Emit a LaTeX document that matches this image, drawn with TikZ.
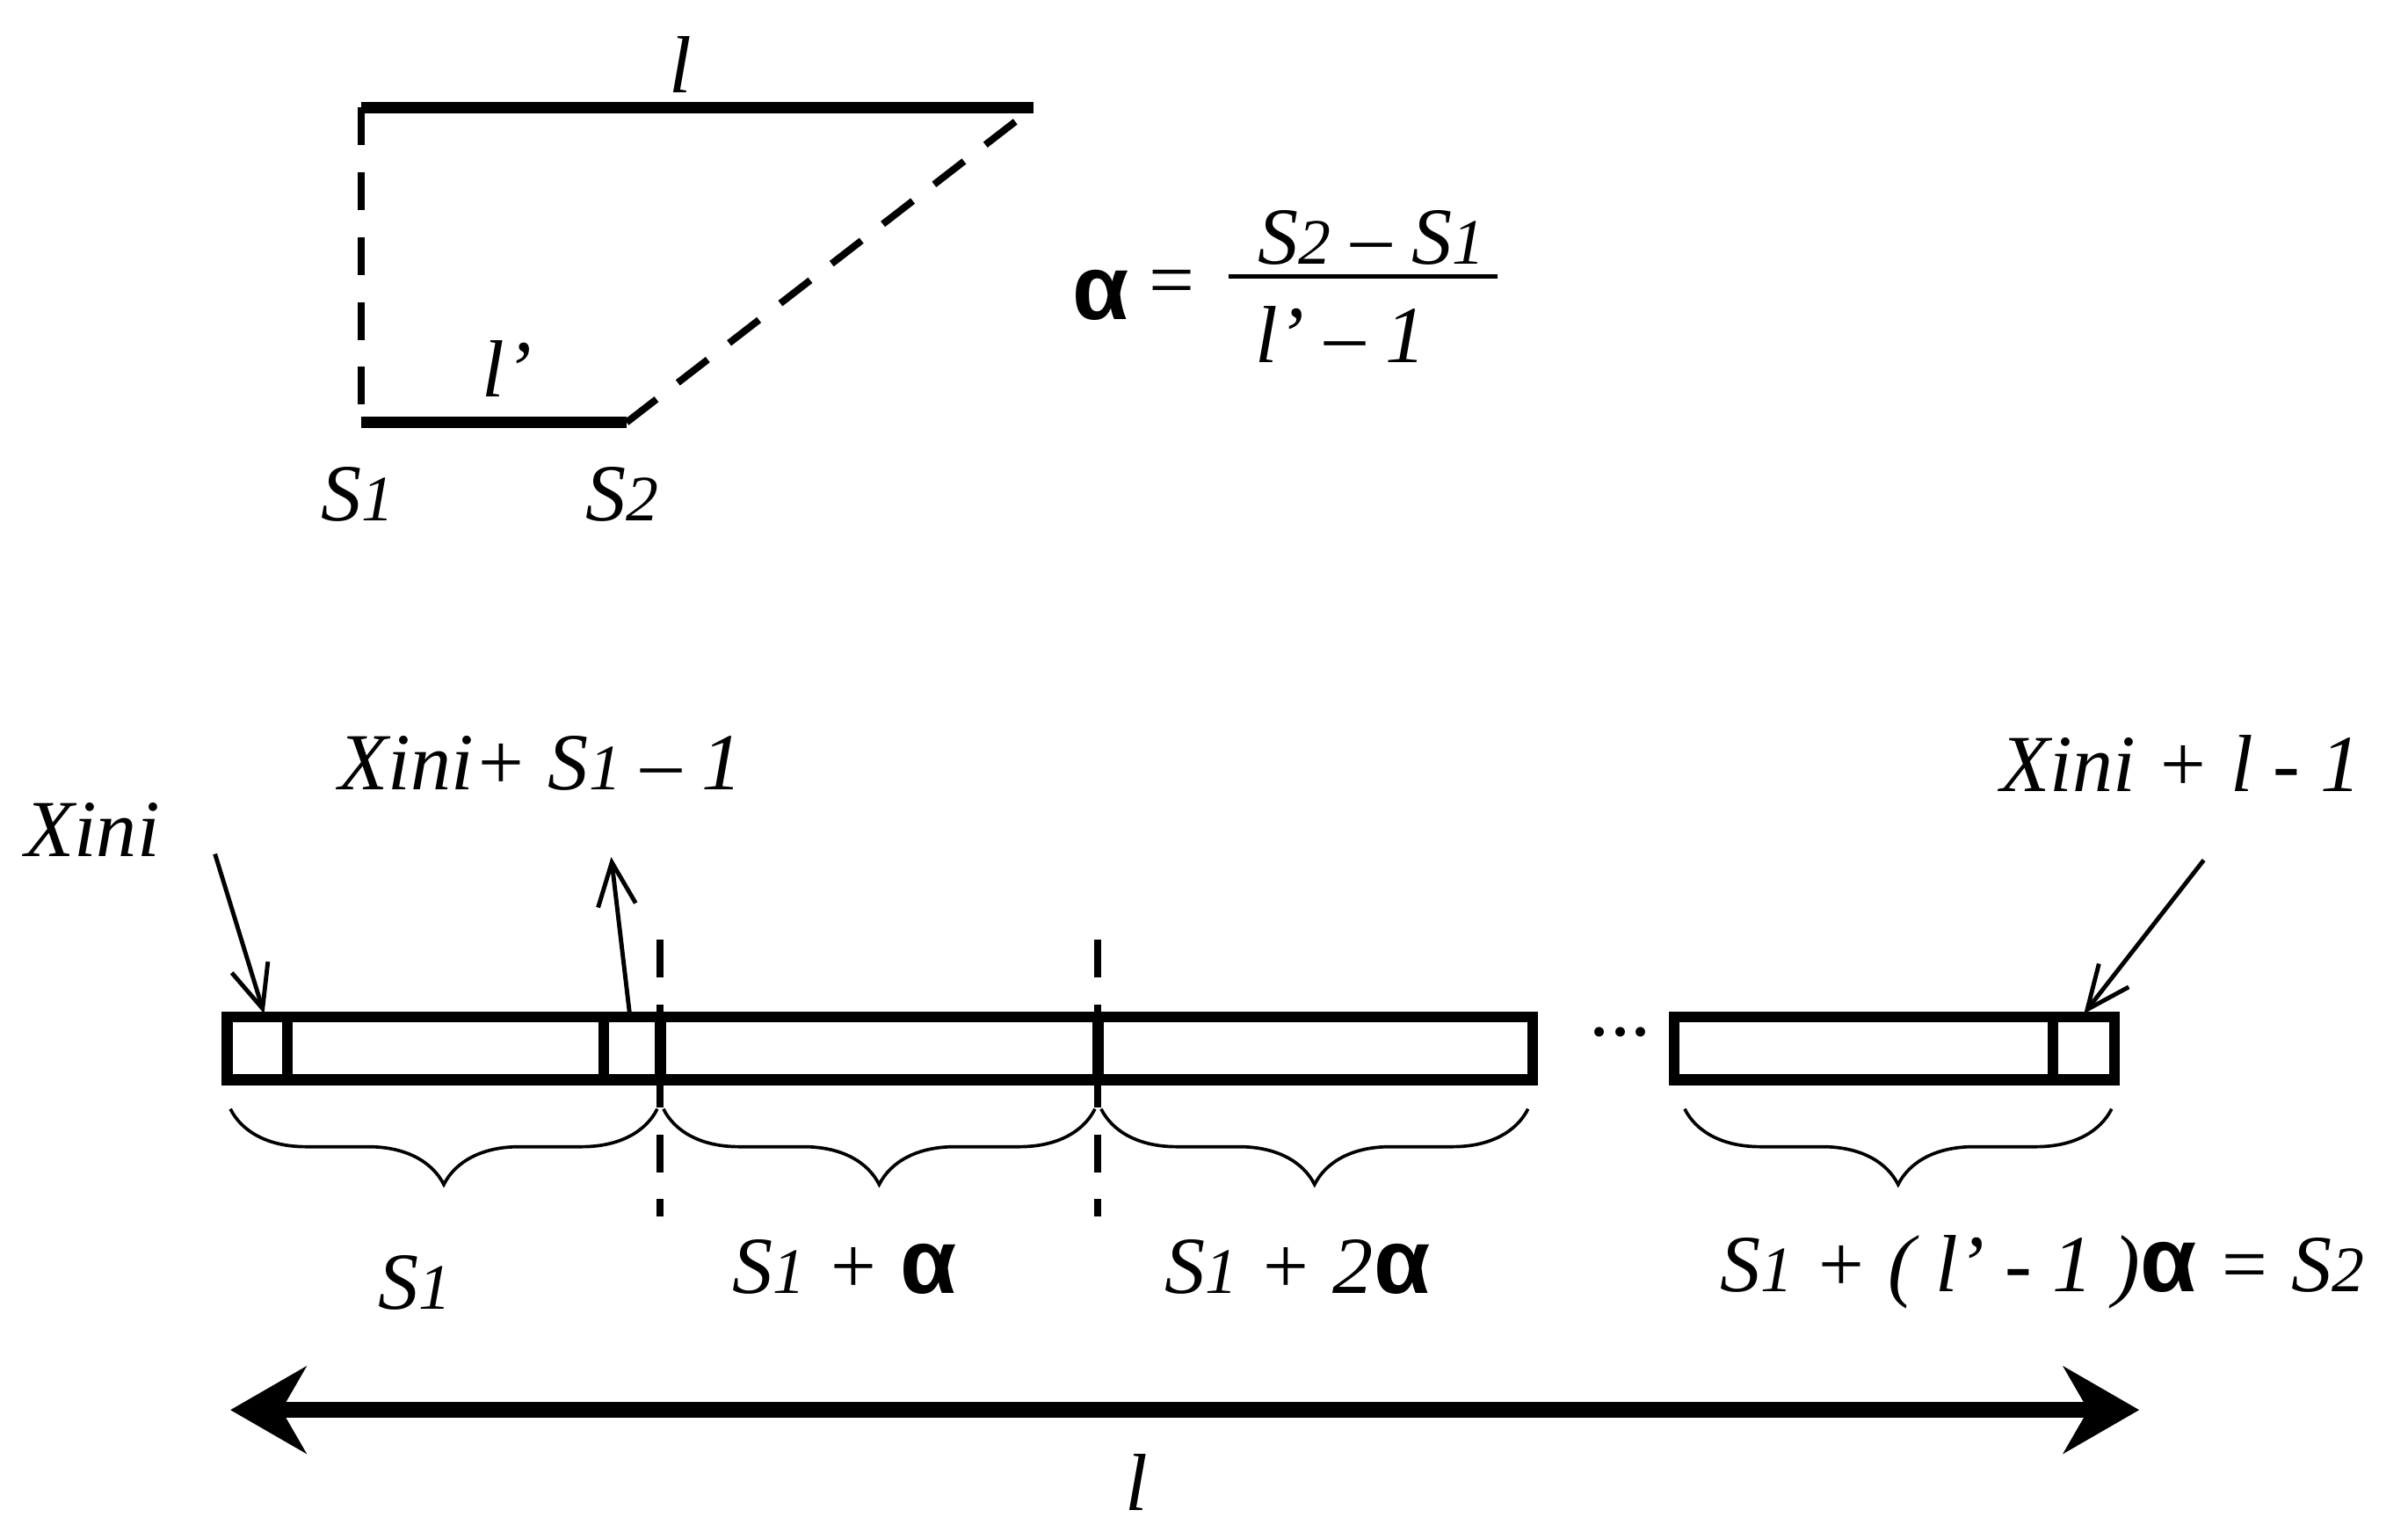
\documentclass[tikz,border=0pt]{standalone}
\usepackage{fontspec}
\setmainfont{Liberation Serif}
\newfontfamily\sansf{Liberation Sans}
\usetikzlibrary{decorations.pathreplacing,arrows.meta}
\newcommand{\sub}[1]{{\fontsize{12}{13}\selectfont #1}}
\newcommand{\al}{{\upshape\sansf\bfseries\fontsize{17}{18}\selectfont α}}
\begin{document}
\begin{tikzpicture}[x=0.01cm,y=-0.01cm,
  lab/.style={font=\fontsize{15}{16}\selectfont\itshape, inner sep=0pt},
  thk/.style={line width=2.2pt},
  dsh/.style={line width=1.3pt, dash pattern=on 7pt off 5pt},
  box/.style={line width=2pt},
  br/.style={decorate, decoration={brace, mirror, amplitude=14pt}, line width=0.6pt},
  ar/.style={-{Straight Barb[length=8pt,width=7pt]}, line width=0.8pt}]
\useasboundingbox (0,0) rectangle (1568,997);
% top figure
\coordinate (A) at (235,70); \coordinate (B) at (673,70);
\coordinate (C) at (235,275); \coordinate (D) at (408,275);
\draw[thk] (A) -- (B);
\draw[thk] (C) -- (D);
\draw[dsh] (A) -- (C);
\draw[dsh] (D) -- (B);
\node[lab] (ltop) at (443,42) {l};
\node[lab] (lp) at (330,240) {l’};
\node[lab] (s1) at (233,322) {S\sub{1}};
\node[lab] (s2) at (405,322) {S\sub{2}};
% formula
\node[inner sep=0pt] (alpha) at (717,192) {\al};
\node[inner sep=0pt,font=\fontsize{15}{16}\selectfont] (eq) at (763,188) {=};
\coordinate (fb1) at (800,180); \coordinate (fb2) at (975,180);
\draw[line width=0.8pt] (fb1) -- (fb2);
\node[lab] (num) at (893,155) {S\sub{2} – S\sub{1}};
\node[lab] (den) at (873,218) {l’ – 1};
% bars
\draw[box] (148,662) rectangle (998,703);
\draw[box] (1090,662) rectangle (1377,703);
\foreach \x in {187,393,430,715} \draw[box] (\x,662) -- (\x,703);
\draw[box] (1337,662) -- (1337,703);
\node[inner sep=0pt,font=\fontsize{15}{16}\selectfont] (dots) at (1055,672) {...};
\draw[dsh] (430,612) -- (430,792);
\draw[dsh] (715,612) -- (715,792);
% braces
\draw[br] (150,722) -- (428,722);
\draw[br] (432,722) -- (713,722);
\draw[br] (717,722) -- (995,722);
\draw[br] (1097,722) -- (1375,722);
\node[lab] (b1) at (270,835) {S\sub{1}};
\node[lab] (b2) at (550,825) {S\sub{1} + \al};
\node[lab] (b3) at (845,825) {S\sub{1} + 2\al};
\node[lab] (b4) at (1330,828) {S\sub{1} + ( l’ - 1 )\al\ = S\sub{2}};
% arrows and labels
\node[lab] (x1) at (60,540) {Xini};
\coordinate (x1e) at (172,660);
\draw[ar] (140,556) -- (x1e);
\node[lab] (x2) at (352,497) {Xini+ S\sub{1} – 1};
\coordinate (x2s) at (410,660);
\draw[ar] (x2s) -- (398,558);
\node[lab] (x3) at (1420,497) {Xini + l - 1};
\coordinate (x3e) at (1357,660);
\draw[ar] (1435,560) -- (x3e);
% length arrow
\coordinate (L1) at (150,918); \coordinate (L2) at (1393,918);
\draw[line width=3pt, {Stealth[length=14pt,width=16pt]}-{Stealth[length=14pt,width=16pt]}] (L1) -- (L2);
\node[lab] (lbot) at (740,965) {l};
\end{tikzpicture}
\end{document}
